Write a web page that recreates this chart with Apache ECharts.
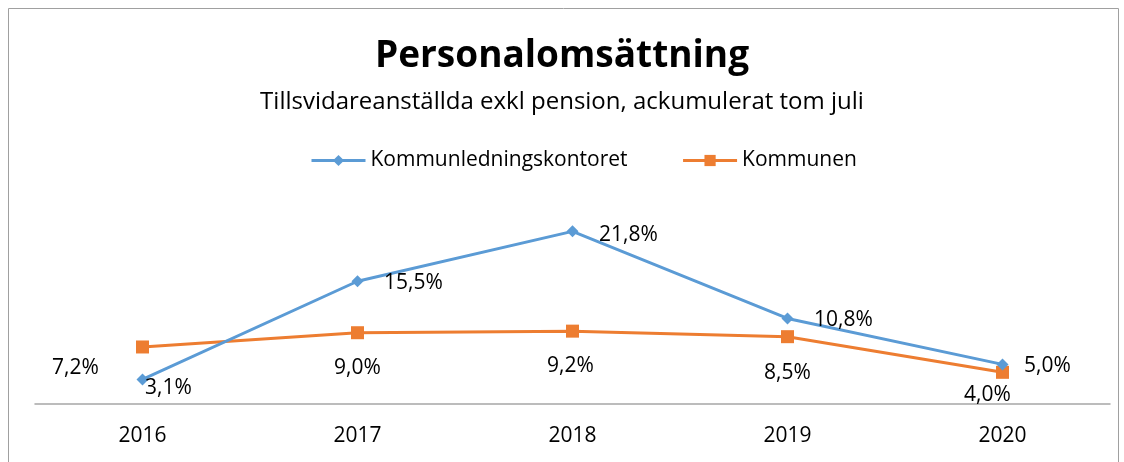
<!DOCTYPE html>
<html>
<head>
<meta charset="utf-8">
<script src="https://cdn.jsdelivr.net/npm/echarts@6/dist/echarts.min.js"></script>
<style>
  html, body { margin: 0; padding: 0; background: #fff; }
  #chart { width: 1124px; height: 462px; }
</style>
</head>
<body>
<div id="chart"></div>
<script>
const years = ['2016', '2017', '2018', '2019', '2020']
const kontoret = [3.1, 15.5, 21.8, 10.8, 5.0]
const kommunen = [7.2, 9.0, 9.2, 8.5, 4.0]

// label nudges, roughly where Excel put them
const kontoretOffset = [[26, 9], [56, 2], [56, 4], [56, 2], [45, 2]]
const kommunenOffset = [[-67, 21], [0, 35], [-2, 35], [0, 36], [-15, 23]]

const fmt = v => v.toFixed(1).replace('.', ',') + '%'

const font = '"Open Sans", "Liberation Sans", sans-serif'

function withLabels(values, offsets) {
  return values.map((v, i) => ({
    value: v,
    label: { offset: offsets[i] }
  }))
}

const chart = echarts.init(document.getElementById('chart'))

const option = {
  animation: false,
  textStyle: { fontFamily: font },
  graphic: [{
    type: 'rect',
    shape: { x: 8.5, y: 8.5, width: 1110, height: 470 },
    style: { fill: 'none', stroke: '#a0a0a0', lineWidth: 1 }
  }],
  title: {
    text: 'Personalomsättning',
    subtext: 'Tillsvidareanställda exkl pension, ackumulerat tom juli',
    left: 'center',
    top: 33,
    itemGap: 15,
    textStyle: { fontFamily: font, fontSize: 37, fontWeight: 'bold', color: '#000' },
    subtextStyle: { fontFamily: font, fontSize: 24, color: '#000' }
  },
  legend: {
    top: 145,
    left: 305,
    itemGap: 54,
    itemWidth: 54,
    itemHeight: 14,
    lineStyle: { width: 3 },
    textStyle: { fontFamily: font, fontSize: 21, color: '#000' },
    data: ['Kommunledningskontoret', 'Kommunen']
  },
  grid: { left: 35, right: 14, top: 206, bottom: 58 },
  xAxis: {
    type: 'category',
    data: years,
    axisLine: { lineStyle: { color: '#a6a6a6', width: 1.5 } },
    axisTick: { show: false },
    axisLabel: { fontFamily: font, fontSize: 21, color: '#000', margin: 22 }
  },
  yAxis: {
    type: 'value',
    min: 0,
    max: 25,
    show: false
  },
  series: [
    {
      name: 'Kommunledningskontoret',
      type: 'line',
      data: withLabels(kontoret, kontoretOffset),
      symbol: 'diamond',
      symbolSize: 12,
      lineStyle: { width: 3, color: '#5B9BD5' },
      itemStyle: { color: '#5B9BD5' },
      label: {
        show: true,
        position: 'inside',
        fontFamily: font,
        fontSize: 21,
        color: '#000',
        formatter: p => fmt(p.value)
      },
      z: 3
    },
    {
      name: 'Kommunen',
      type: 'line',
      data: withLabels(kommunen, kommunenOffset),
      symbol: 'rect',
      symbolSize: 13,
      lineStyle: { width: 3, color: '#ED7D31' },
      itemStyle: { color: '#ED7D31' },
      label: {
        show: true,
        position: 'inside',
        fontFamily: font,
        fontSize: 21,
        color: '#000',
        formatter: p => fmt(p.value)
      },
      z: 2
    }
  ]
}

chart.setOption(option)
</script>
</body>
</html>
